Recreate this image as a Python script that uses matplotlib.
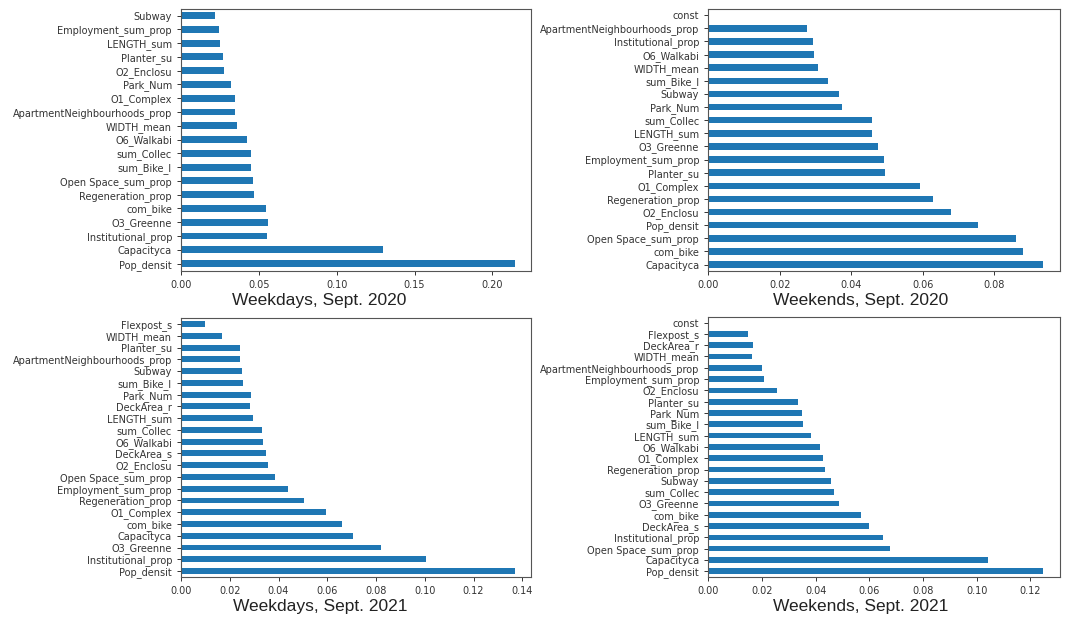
import matplotlib
matplotlib.use('Agg')
import matplotlib.pyplot as plt

# feature importances, listed from the bottom bar upward
wd20_names = ['Pop_densit', 'Capacityca', 'Institutional_prop', 'O3_Greenne', 'com_bike',
              'Regeneration_prop', 'Open Space_sum_prop', 'sum_Bike_l', 'sum_Collec', 'O6_Walkabi',
              'WIDTH_mean', 'ApartmentNeighbourhoods_prop', 'O1_Complex', 'Park_Num', 'O2_Enclosu',
              'Planter_su', 'LENGTH_sum', 'Employment_sum_prop', 'Subway']
wd20_vals = [0.2143, 0.1297, 0.0555, 0.0556, 0.0543, 0.0470, 0.0461, 0.0447, 0.0448, 0.0426,
             0.0359, 0.0347, 0.0348, 0.0320, 0.0279, 0.0268, 0.0249, 0.0245, 0.0221]

we20_names = ['Capacityca', 'com_bike', 'Open Space_sum_prop', 'Pop_densit', 'O2_Enclosu',
              'Regeneration_prop', 'O1_Complex', 'Planter_su', 'Employment_sum_prop', 'O3_Greenne',
              'LENGTH_sum', 'sum_Collec', 'Park_Num', 'Subway', 'sum_Bike_l', 'WIDTH_mean',
              'O6_Walkabi', 'Institutional_prop', 'ApartmentNeighbourhoods_prop', 'const']
we20_vals = [0.0936, 0.0881, 0.0860, 0.0754, 0.0678, 0.0628, 0.0591, 0.0495, 0.0491, 0.0475,
             0.0457, 0.0458, 0.0375, 0.0366, 0.0335, 0.0307, 0.0296, 0.0292, 0.0277, 0.0]

wd21_names = ['Pop_densit', 'Institutional_prop', 'O3_Greenne', 'Capacityca', 'com_bike',
              'O1_Complex', 'Regeneration_prop', 'Employment_sum_prop', 'Open Space_sum_prop',
              'O2_Enclosu', 'DeckArea_s', 'O6_Walkabi', 'sum_Collec', 'LENGTH_sum', 'DeckArea_r',
              'Park_Num', 'sum_Bike_l', 'Subway', 'ApartmentNeighbourhoods_prop', 'Planter_su',
              'WIDTH_mean', 'Flexpost_s']
wd21_vals = [0.1369, 0.1004, 0.0820, 0.0706, 0.0659, 0.0594, 0.0503, 0.0440, 0.0384, 0.0358,
             0.0350, 0.0337, 0.0333, 0.0294, 0.0284, 0.0285, 0.0256, 0.0252, 0.0241, 0.0242,
             0.0170, 0.0098]

we21_names = ['Pop_densit', 'Capacityca', 'Open Space_sum_prop', 'Institutional_prop', 'DeckArea_s',
              'com_bike', 'O3_Greenne', 'sum_Collec', 'Subway', 'Regeneration_prop', 'O1_Complex',
              'O6_Walkabi', 'LENGTH_sum', 'sum_Bike_l', 'Park_Num', 'Planter_su', 'O2_Enclosu',
              'Employment_sum_prop', 'ApartmentNeighbourhoods_prop', 'WIDTH_mean', 'DeckArea_r',
              'Flexpost_s', 'const']
we21_vals = [0.1247, 0.1041, 0.0676, 0.0652, 0.0598, 0.0569, 0.0486, 0.0467, 0.0459, 0.0436,
             0.0429, 0.0415, 0.0383, 0.0354, 0.0351, 0.0333, 0.0255, 0.0207, 0.0201, 0.0164,
             0.0165, 0.0148, 0.0]

titles = ['Weekdays, Sept. 2020', 'Weekends, Sept. 2020',
          'Weekdays, Sept. 2021', 'Weekends, Sept. 2021']

panels = [(wd20_names, wd20_vals), (we20_names, we20_vals),
          (wd21_names, wd21_vals), (we21_names, we21_vals)]

# axes boxes [left, bottom, width, height] in figure fractions
boxes = [[0.170, 0.563, 0.329, 0.423],
         [0.665, 0.562, 0.330, 0.424],
         [0.170, 0.068, 0.329, 0.418],
         [0.665, 0.068, 0.330, 0.420]]
label_pos = [(0.300, 0.502), (0.808, 0.502), (0.301, 0.008), (0.808, 0.008)]

fig = plt.figure(figsize=(10.65, 6.19), dpi=100)
for (names, vals), box, title, lp in zip(panels, boxes, titles, label_pos):
    ax = fig.add_axes(box)
    ax.barh(range(len(vals)), vals, height=0.5, color='#1f77b4')
    ax.set_yticks(range(len(vals)))
    ax.set_yticklabels(names)
    ax.set_ylim(-0.5, len(vals) - 0.5)
    ax.set_xlim(0, max(vals) * 1.05)
    ax.tick_params(labelsize=7, colors='#333333', width=0.7, length=3)
    for s in ax.spines.values():
        s.set_color('#555555')
        s.set_linewidth(0.8)
    if 'Sept. 2020' in title and 'Weekdays' in title:
        ax.set_xticks([0, 0.05, 0.10, 0.15, 0.20])
    ax.xaxis.set_major_formatter(matplotlib.ticker.FormatStrFormatter('%.2f'))
    fig.text(lp[0], lp[1], title, ha='center', va='bottom', fontsize=12.5,
             family=['Liberation Sans', 'DejaVu Sans'], color='#222222')

fig.savefig('out.png', dpi=100, facecolor='white')
